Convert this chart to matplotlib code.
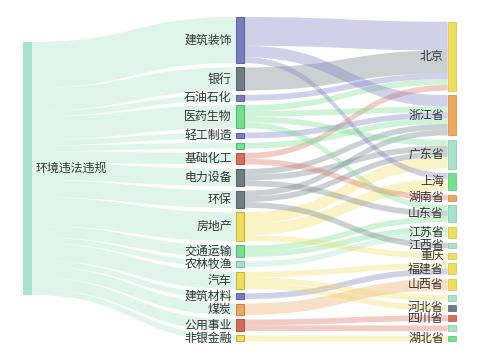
import numpy as np
import matplotlib.pyplot as plt
from matplotlib.path import Path
from matplotlib.patches import PathPatch, Rectangle
from matplotlib.colors import to_rgb

plt.rcParams['font.family'] = ['Noto Sans CJK SC', 'DejaVu Sans']

# palette
MINT, PURPLE, GRAY, GREEN = '#a6e3c9', '#7b7bc0', '#6c7d83', '#74df8f'
RED, YELLOW, ORANGE = '#d86c58', '#efdd5c', '#eca75c'

root = '环境违法违规'
root_color = MINT

industries = ['建筑装饰', '银行', '石油石化', '医药生物', '轻工制造', '未标注行业',
              '基础化工', '电力设备', '环保', '房地产', '交通运输', '农林牧渔',
              '汽车', '建筑材料', '煤炭', '公用事业', '非银金融']
industry_counts = [8, 4, 1, 4, 1, 1, 2, 3, 3, 5, 2, 1, 3, 1, 2, 2, 1]
industry_colors = [PURPLE, GRAY, PURPLE, GREEN, PURPLE, GREEN, RED, GRAY, GRAY,
                   YELLOW, GREEN, MINT, YELLOW, PURPLE, ORANGE, RED, YELLOW]

provinces = ['北京', '浙江省', '广东省', '上海', '湖南省', '山东省', '江苏省',
             '江西省', '重庆', '福建省', '山西省', '未标注1', '河北省', '四川省',
             '未标注2', '湖北省']
province_colors = [YELLOW, ORANGE, MINT, GREEN, ORANGE, MINT, YELLOW, MINT,
                   YELLOW, YELLOW, YELLOW, MINT, GRAY, RED, MINT, GREEN]
hidden_labels = ['未标注行业', '未标注1', '未标注2']

link_src = ['建筑装饰', '建筑装饰', '建筑装饰', '银行', '石油石化',
            '医药生物', '医药生物', '医药生物', '医药生物', '轻工制造', '未标注行业',
            '基础化工', '基础化工', '电力设备', '电力设备', '电力设备',
            '环保', '环保', '环保', '房地产', '房地产', '房地产',
            '交通运输', '交通运输', '农林牧渔', '汽车', '汽车', '汽车',
            '建筑材料', '煤炭', '公用事业', '公用事业', '非银金融']
link_dst = ['北京', '浙江省', '上海', '北京', '北京',
            '北京', '浙江省', '广东省', '山东省', '浙江省', '浙江省',
            '北京', '湖南省', '浙江省', '广东省', '山东省',
            '浙江省', '广东省', '江西省', '广东省', '上海', '重庆',
            '山东省', '江苏省', '江苏省', '福建省', '未标注1', '河北省',
            '福建省', '山西省', '四川省', '未标注2', '湖北省']
link_val = [5, 2, 1, 4, 1,
            1, 1, 1, 1, 1, 1,
            1, 1, 1, 1, 1,
            1, 1, 1, 2, 2, 1,
            1, 1, 1, 1, 1, 1,
            1, 2, 1, 1, 1]

# layout (pixels)
W, H = 480, 360
unit = 5.75
gap = 4.45
node_w = 8.5
x_root, x_mid, x_right = 23.3, 235.7, 447.7
top_root, top_mid, top_right = 42.0, 17.0, 21.7
alpha = 0.35


def stack(names, sizes, top):
    pos = {}
    y = top
    for n, s in zip(names, sizes):
        pos[n] = y
        y += s * unit + gap
    return pos


prov_sizes = [sum(v for d, v in zip(link_dst, link_val) if d == p) for p in provinces]
mid_y = stack(industries, industry_counts, top_mid)
right_y = stack(provinces, prov_sizes, top_right)


def ribbon(ax, x0, y0, x1, y1, h, color):
    xm = (x0 + x1) / 2
    verts = [(x0, y0), (xm, y0), (xm, y1), (x1, y1),
             (x1, y1 + h), (xm, y1 + h), (xm, y0 + h), (x0, y0 + h), (x0, y0)]
    codes = [Path.MOVETO, Path.CURVE4, Path.CURVE4, Path.CURVE4,
             Path.LINETO, Path.CURVE4, Path.CURVE4, Path.CURVE4, Path.CLOSEPOLY]
    ax.add_patch(PathPatch(Path(verts, codes), facecolor=color, edgecolor='none',
                           alpha=alpha, zorder=1))


def darker(c, f=0.82):
    r, g, b = to_rgb(c)
    return (r * f, g * f, b * f)


fig = plt.figure(figsize=(W / 100, H / 100), dpi=100)
ax = fig.add_axes([0, 0, 1, 1])
ax.set_xlim(0, W)
ax.set_ylim(H, 0)
ax.axis('off')

# root -> industries
y_out = top_root
for n, c in zip(industries, industry_counts):
    h = c * unit
    ribbon(ax, x_root + node_w, y_out, x_mid, mid_y[n], h, root_color)
    y_out += h

# industries -> provinces (outgoing sorted by target y, incoming by source y)
out_off = {n: mid_y[n] for n in industries}
in_off = {p: right_y[p] for p in provinces}
links = list(zip(link_src, link_dst, link_val))
src_order = sorted(links, key=lambda l: (industries.index(l[0]), right_y[l[1]]))
starts = {}
for s, d, v in src_order:
    starts[(s, d)] = out_off[s]
    out_off[s] += v * unit
for s, d, v in sorted(links, key=lambda l: (provinces.index(l[1]), mid_y[l[0]])):
    col = industry_colors[industries.index(s)]
    ribbon(ax, x_mid + node_w, starts[(s, d)], x_right, in_off[d], v * unit, col)
    in_off[d] += v * unit

# nodes
total = sum(industry_counts)
ax.add_patch(Rectangle((x_root, top_root), node_w, total * unit,
                       facecolor=root_color, edgecolor='none', zorder=3))
ax.text(x_root + node_w + 4, top_root + total * unit / 2, root, ha='left',
        va='center', fontsize=8.6, color='#333333', zorder=4)

for n, c, col in zip(industries, industry_counts, industry_colors):
    ax.add_patch(Rectangle((x_mid, mid_y[n]), node_w, c * unit, facecolor=col,
                           edgecolor=darker(col), lw=0.8, zorder=3))
    if n not in hidden_labels:
        ax.text(x_mid - 4, mid_y[n] + c * unit / 2, n, ha='right', va='center',
                fontsize=8.6, color='#333333', zorder=4)

for p, s, col in zip(provinces, prov_sizes, province_colors):
    ax.add_patch(Rectangle((x_right, right_y[p]), node_w, s * unit, facecolor=col,
                           edgecolor=darker(col, 0.9), lw=0.6, zorder=3))
    if p not in hidden_labels:
        ax.text(x_right - 4, right_y[p] + s * unit / 2, p, ha='right', va='center',
                fontsize=8.6, color='#333333', zorder=4)

fig.savefig('out.png', dpi=100, facecolor='white')
